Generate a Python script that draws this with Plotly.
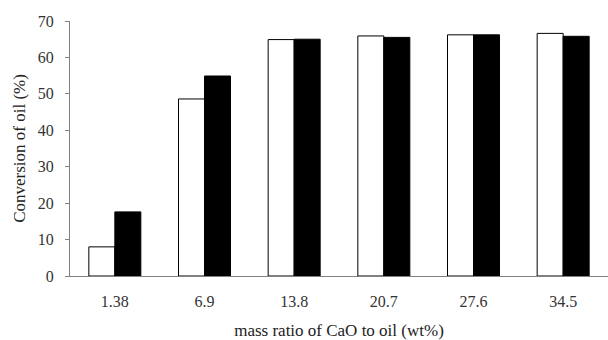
import plotly.graph_objects as go

categories = ["1.38", "6.9", "13.8", "20.7", "27.6", "34.5"]
series_a = [8.0, 48.6, 64.9, 65.9, 66.2, 66.6]
series_b = [17.6, 54.9, 65.0, 65.5, 66.2, 65.8]
y_ticks = [0, 10, 20, 30, 40, 50, 60, 70]

font_family = "Liberation Serif, Times New Roman, serif"

fig = go.Figure()
fig.add_trace(go.Bar(x=categories, y=series_a, name="A",
                     marker=dict(color="white", line=dict(color="black", width=1))))
fig.add_trace(go.Bar(x=categories, y=series_b, name="B",
                     marker=dict(color="black", line=dict(color="black", width=1))))

fig.update_layout(
    width=608, height=340,
    margin=dict(l=70, r=0, t=21, b=64),
    paper_bgcolor="white", plot_bgcolor="white",
    barmode="group", bargap=0.42, bargroupgap=0,
    showlegend=False,
    font=dict(family=font_family, size=16, color="#333333"),
)
fig.update_xaxes(
    type="category", showline=True, linecolor="#808080", linewidth=1,
    ticks="", showgrid=False, zeroline=False, ticklabelstandoff=11,
    title=dict(text="mass ratio of CaO to oil (wt%)", standoff=14,
               font=dict(family=font_family, size=17, color="#222222")),
    tickfont=dict(family=font_family, size=16, color="#333333"),
)
fig.update_yaxes(
    range=[0, 70], tickvals=y_ticks, showline=True, linecolor="#808080", linewidth=1,
    ticks="outside", ticklen=4, tickcolor="#808080", showgrid=False, zeroline=False,
    ticklabelstandoff=8,
    title=dict(text="Conversion of oil (%)", standoff=7,
               font=dict(family=font_family, size=17, color="#222222")),
    tickfont=dict(family=font_family, size=16, color="#333333"),
)

fig.write_html("out.html")
